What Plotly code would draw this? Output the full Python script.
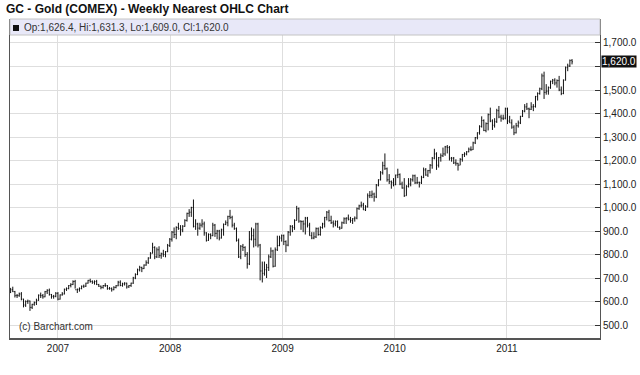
import pandas as pd
import plotly.graph_objects as go

# Weekly bars (Monday of each week), Jul 31 2006 .. Aug 1 2011
first_week = "2006-07-31"

open_px = [
    638,650,642,625,625,632,610,585,600,602,575,588,595,605,627,625,620,642,648,630,622,622,
    635,610,628,632,652,655,668,672,685,650, 652,655,665,665,678,690,685,682,685,672,
    665,660,668,668,655,655,650,660,667,682, 668,675,678,662,668,678,700,715,735,745,
    740,755,765,785,805,830,790,820,795,803, 800,812,
    838,865,895,885,915,910,905,920,945,975, 980,1000,920,930,912,925,930,892,860,885,
    880,925,890,900,870,905,928,935,962,958, 925,910,860,790,835,830,800,760,865,880,
    865,930,840,730,720,735,745,790,815,750, 820,838,
    870,880,855,840,895,920,915,945,995,942, 940,930,955,925,880,870,875,910,885,915,
    930,958,980,945,935,930,940,915,912,935, 952,955,950,945,952,955,995,1007,1010,990,
    1003,1050,1052,1057,1045,1095,1118,1148,1178,1165, 1118,1110,
    1105,1097,1138,1140,1100,1083,1050,1090,1100,1118, 1135,1105,1107,1105,1128,1160,1138,1157,1180,1210,
    1228,1180,1212,1220,1228,1258,1255,1210,1210,1190, 1188,1180,1205,1225,1228,1237,1248,1246,1275,1297,
    1318,1345,1370,1328,1357,1395,1368,1350,1365,1412, 1385,1380,
    1380,1420,1368,1360,1342,1318,1348,1360,1388,1410, 1428,1420,1418,1428,1430,1472,1485,1505,1560,1490,
    1495,1510,1537,1542,1530,1540,1500,1485,1542,1595, 1602,1626.4,
]
high_px = [
    658,663,645,632,638,640,612,605,608,604,590,600,612,630,638,632,645,652,655,632,628,640,
    640,630,640,655,660,670,678,690,692,655, 660,668,672,680,692,697,690,690,692,675,
    668,670,678,670,662,660,665,670,688,690, 680,682,680,670,680,705,720,740,752,748,
    758,775,788,810,850,835,830,835,808,820, 815,845,
    870,900,915,920,935,925,925,950,978,993, 1003,1034,950,935,935,950,940,895,890,890,
    935,930,905,905,910,932,945,965,990,965, 935,915,868,840,845,835,810,900,915,910,
    935,935,845,770,770,760,800,830,820,830, 880,880,
    885,885,860,900,925,925,950,1007,1000,945, 945,960,960,935,895,895,915,915,920,935,
    960,985,990,965,945,945,945,920,940,958, 958,970,960,955,962,1000,1012,1025,1020,1010,
    1060,1070,1072,1063,1100,1120,1155,1195,1230,1170, 1142,1115,
    1125,1140,1165,1145,1110,1125,1095,1125,1125,1140, 1140,1130,1110,1135,1170,1168,1160,1185,1215,1250,
    1235,1215,1230,1255,1262,1266,1262,1215,1215,1205, 1190,1210,1228,1235,1240,1255,1260,1280,1300,1320,
    1350,1388,1375,1362,1400,1425,1375,1380,1420,1432, 1395,1395,
    1425,1425,1390,1375,1350,1360,1370,1390,1415,1440, 1445,1425,1448,1440,1475,1490,1510,1570,1578,1525,
    1515,1540,1547,1550,1545,1560,1515,1545,1600,1612, 1630,1631.3,
]
low_px = [
    636,640,617,615,620,605,575,577,590,560,568,582,585,603,615,612,618,632,625,612,612,618,
    605,608,625,630,645,652,660,670,655,636, 642,652,658,662,676,680,675,672,670,662,
    652,655,662,650,650,642,648,656,665,665, 663,668,655,658,662,675,695,712,728,725,
    738,752,760,782,805,780,785,785,782,790, 788,810,
    832,855,870,865,905,880,895,918,940,960, 960,915,905,880,905,915,880,855,858,865,
    878,875,865,860,868,880,925,920,950,915, 905,855,785,780,815,790,740,755,860,830,
    835,830,690,681,710,700,730,785,745,748, 815,835,
    855,840,810,835,880,895,905,945,935,905, 895,885,915,880,865,865,870,880,880,910,
    915,945,940,930,915,920,915,905,910,930, 930,945,935,930,940,950,990,1000,990,985,
    1000,1040,1040,1025,1040,1090,1115,1140,1160,1110, 1100,1080,
    1090,1095,1125,1095,1080,1045,1050,1085,1090,1110, 1100,1100,1085,1100,1125,1135,1130,1145,1165,1205,
    1160,1170,1195,1215,1220,1230,1200,1195,1185,1178, 1157,1180,1195,1215,1222,1235,1240,1245,1270,1290,
    1310,1340,1325,1320,1328,1363,1330,1340,1360,1380, 1365,1372,
    1375,1355,1360,1335,1308,1315,1340,1355,1385,1405, 1415,1380,1415,1410,1425,1455,1480,1500,1462,1480,
    1480,1505,1525,1520,1510,1495,1478,1482,1540,1580, 1598,1609.0,
]
close_px = [
    650,642,625,625,632,610,585,600,602,575,588,595,605,627,625,620,642,648,630,622,622,635,
    610,628,632,652,655,668,672,685,650,652, 655,665,665,678,690,685,682,685,672,665,
    660,668,668,655,655,650,660,667,682,668, 675,678,662,668,678,700,715,735,745,740,
    755,765,785,805,830,790,820,795,803,800, 812,838,
    865,895,885,915,910,905,920,945,975,980, 1000,920,930,912,925,930,892,860,885,880,
    925,890,900,870,905,928,935,962,958,925, 910,860,790,835,830,800,760,865,880,865,
    930,840,730,720,735,745,790,815,750,820, 838,870,
    880,855,840,895,920,915,945,995,942,940, 930,955,925,880,870,875,910,885,915,930,
    958,980,945,935,930,940,915,912,935,952, 955,950,945,952,955,995,1007,1010,990,1003,
    1050,1052,1057,1045,1095,1118,1148,1178,1165,1118, 1110,1105,
    1097,1138,1140,1100,1083,1050,1090,1100,1118,1135, 1105,1107,1105,1128,1160,1138,1157,1180,1210,1228,
    1180,1212,1220,1228,1258,1255,1210,1210,1190,1188, 1180,1205,1225,1228,1237,1248,1246,1275,1297,1318,
    1345,1370,1328,1357,1395,1368,1350,1365,1412,1385, 1380,1380,
    1420,1368,1360,1342,1318,1348,1360,1388,1410,1428, 1420,1418,1428,1430,1472,1485,1505,1560,1490,1495,
    1510,1537,1542,1530,1540,1500,1485,1542,1595,1602, 1625,1620.0,
]

year_ticks = ["2007-01-01", "2008-01-01", "2009-01-01", "2010-01-01", "2011-01-01"]
year_labels = ["2007", "2008", "2009", "2010", "2011"]
price_ticks = [500, 600, 700, 800, 900, 1000, 1100, 1200, 1300, 1400, 1500, 1600, 1700]

title_text = "GC - Gold (COMEX) - Weekly Nearest OHLC Chart"
last_bar = "Op:1,626.4, Hi:1,631.3, Lo:1,609.0, Cl:1,620.0"
last_close = 1620.0
credit = "(c) Barchart.com"

dates = pd.date_range(first_week, periods=len(close_px), freq="W-MON")

# the 1,600.0 label sits under the last-price marker in the reference
price_labels = ["" if abs(v - last_close) < 40 else "{:,.1f}".format(v) for v in price_ticks]

FONT = "Liberation Sans, Arial, sans-serif"
W, H = 640, 375
L, R, T, B = 10, 40, 19, 37
PW, PH = W - L - R, H - T - B

fig = go.Figure(go.Ohlc(
    x=dates, open=open_px, high=high_px, low=low_px, close=close_px,
    increasing=dict(line=dict(color="#111111", width=1)),
    decreasing=dict(line=dict(color="#111111", width=1)),
    tickwidth=0.35, hoverinfo="skip", showlegend=False,
))

fig.update_layout(
    width=W, height=H,
    margin=dict(l=L, r=R, t=T, b=B, autoexpand=False),
    paper_bgcolor="white", plot_bgcolor="white",
    font=dict(family=FONT, size=10, color="#222222"),
    title=dict(text="<b>" + title_text + "</b>", x=6 / W, xanchor="left",
               xref="container", y=1 - 9 / H, yanchor="middle",
               font=dict(family=FONT, size=12, color="#111111")),
    xaxis=dict(
        type="date", range=["2006-07-29", "2011-10-31"],
        tickvals=year_ticks, ticktext=year_labels,
        showgrid=True, gridcolor="#dedede", gridwidth=1,
        showline=True, linecolor="#555555", linewidth=2,
        ticks="", rangeslider=dict(visible=False), zeroline=False,
        tickfont=dict(size=10, color="#222222"),
    ),
    yaxis=dict(
        side="right", range=[444.7, 1802.1],
        tickvals=price_ticks, ticktext=price_labels,
        showgrid=True, gridcolor="#dedede", gridwidth=1,
        showline=True, linecolor="#555555", linewidth=1, mirror=True,
        ticks="inside", ticklen=5, tickcolor="#333333",
        zeroline=False, tickfont=dict(size=10, color="#222222"),
    ),
)

band_h = 16
fig.add_shape(type="rect", xref="paper", yref="paper", x0=0, x1=1, y0=1 - band_h / PH, y1=1,
              fillcolor="#e8e8f8", line=dict(color="#c4c4c4", width=1), layer="above")
fig.add_shape(type="rect", xref="paper", yref="paper",
              x0=3 / PW, x1=9 / PW, y0=1 - 12 / PH, y1=1 - 6 / PH,
              fillcolor="#111111", line=dict(width=0), layer="above")
fig.add_annotation(xref="paper", yref="paper", x=12 / PW, y=1 - 8.5 / PH,
                   xanchor="left", yanchor="middle", showarrow=False,
                   text=last_bar, font=dict(size=10, color="#333333"))
fig.add_annotation(xref="paper", yref="paper", x=7 / PW, y=12 / PH,
                   xanchor="left", yanchor="middle", showarrow=False,
                   text=credit, font=dict(size=10, color="#333333"))
fig.add_annotation(xref="paper", yref="y", x=1, y=last_close, xshift=1,
                   xanchor="left", yanchor="middle", showarrow=False,
                   text="{:,.1f}".format(last_close), bgcolor="#111111",
                   borderpad=0, font=dict(size=10, color="white"))

fig.write_html("out.html", config={"displayModeBar": False},
               post_script="document.body.style.margin='0';")
